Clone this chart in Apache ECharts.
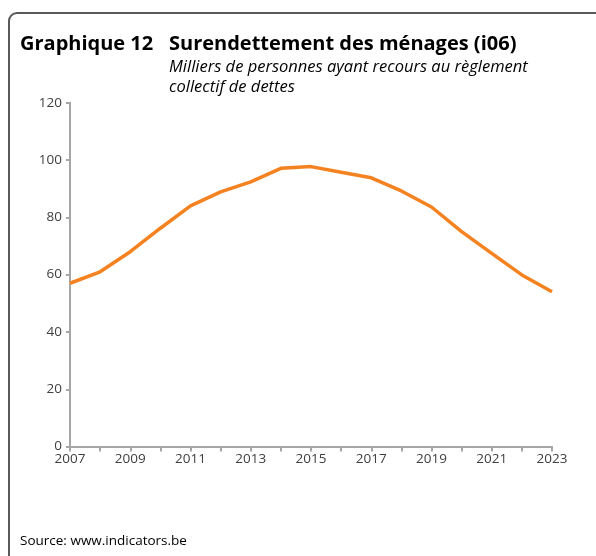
<!DOCTYPE html>
<html>
<head>
<meta charset="utf-8">
<script src="https://cdn.jsdelivr.net/npm/echarts@6/dist/echarts.min.js"></script>
<style>
  html, body { margin: 0; padding: 0; background: #fff; }
  #chart { width: 596px; height: 556px; }
</style>
</head>
<body>
<div id="chart"></div>
<script>
const years = ["2007", "2008", "2009", "2010", "2011", "2012", "2013", "2014", "2015",
  "2016", "2017", "2018", "2019", "2020", "2021", "2022", "2023"];
// milliers de personnes
const personnes = [57.0, 61.0, 68.0, 76.2, 84.0, 88.9, 92.4, 97.1, 97.7,
  95.7, 93.8, 89.2, 83.6, 75.0, 67.4, 59.9, 54.0];
const yTicks = [0, 20, 40, 60, 80, 100, 120];

const font = "Open Sans";
const chart = echarts.init(document.getElementById("chart"));
chart.setOption({
  animation: false,
  textStyle: { fontFamily: font },
  title: [
    {
      text: "Graphique 12",
      left: 20,
      top: 34,
      padding: 0,
      textStyle: { fontFamily: font, fontSize: 20, fontWeight: "bold", color: "#000" },
    },
    {
      text: "Surendettement des ménages (i06)",
      left: 169,
      top: 34,
      padding: 0,
      textStyle: { fontFamily: font, fontSize: 20, fontWeight: "bold", color: "#000" },
    },
    {
      text: "Milliers de personnes ayant recours au règlement\ncollectif de dettes",
      left: 169,
      top: 57,
      padding: 0,
      textStyle: { fontFamily: font, fontSize: 16.5, fontStyle: "italic", fontWeight: "normal", color: "#000", lineHeight: 20 },
    },
    {
      text: "Source: www.indicators.be",
      left: 20,
      top: 534,
      padding: 0,
      textStyle: { fontFamily: font, fontSize: 13.5, fontWeight: "normal", color: "#000" },
    },
  ],
  graphic: [
    {
      type: "rect",
      shape: { x: 9, y: 13, width: 700, height: 700, r: 8 },
      style: { fill: "none", stroke: "#595959", lineWidth: 2 },
      silent: true,
    },
  ],
  grid: { left: 70, right: 44, top: 102.7, bottom: 109.4 },
  xAxis: {
    type: "category",
    data: years,
    boundaryGap: false,
    axisLine: { lineStyle: { color: "#a6a6a6", width: 2 } },
    axisTick: { show: true, interval: 0, length: 5, lineStyle: { color: "#a6a6a6", width: 2 } },
    axisLabel: { interval: 1, color: "#404040", fontSize: 13.5, margin: 6 },
    splitLine: { show: false },
  },
  yAxis: {
    type: "value",
    min: yTicks[0],
    max: yTicks[yTicks.length - 1],
    interval: 20,
    axisLine: { show: true, lineStyle: { color: "#a6a6a6", width: 2 } },
    axisTick: { show: true, length: 4, lineStyle: { color: "#a6a6a6", width: 2 } },
    axisLabel: { color: "#404040", fontSize: 13.5, margin: 8 },
    splitLine: { show: false },
  },
  series: [
    {
      type: "line",
      data: personnes,
      symbol: "none",
      lineStyle: { color: "#f58220", width: 3.5 },
    },
  ],
});
</script>
</body>
</html>
